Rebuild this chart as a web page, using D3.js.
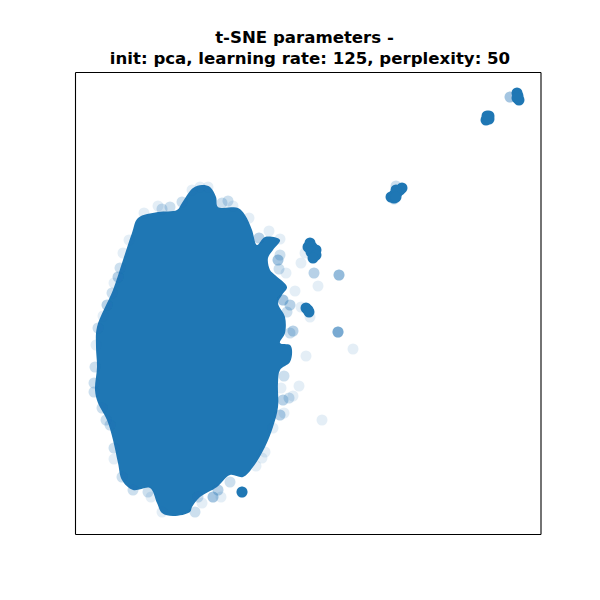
<!DOCTYPE html>
<html>
<head>
<meta charset="utf-8">
<script src="https://cdn.jsdelivr.net/npm/d3@7"></script>
<style>
    html, body { margin: 0; padding: 0; background: #fff; }
    svg { display: block; }
</style>
</head>
<body>
<svg id="chart" width="600" height="600"></svg>
<script>
const titleLines = ["t-SNE parameters -", "init: pca, learning rate: 125, perplexity: 50"];

// Edge of the saturated main cloud, t-SNE units
const cloudX = [-42.1, -38.9, -36.9, -35.1, -33.9, -29.9, -26.1, -25.1, -22.9, -21.1, -19.5, -18.3, -17.9, -13.9, -12.5, -11.1, -10.1, -8.5, -5.5, -6.9, -7.9, -7.5, -6.5, -4.1, -5.1, -5.9, -4.5, -4.5, -5.5, -3.5, -3.1, -3.5, -5.5, -5.9, -5.9, -6.9, -8.5, -10.9, -12.9, -15.5, -18.1, -21.5, -23.1, -23.5, -26.9, -29.1, -30.1, -31.5, -34.9, -37.1, -37.9, -38.9, -40.1, -41.9, -42.5, -42.1, -42.3];
const cloudY = [-4.8, 2.6, 8.6, 14, 17, 18.2, 18.6, 20, 23, 23.6, 23.2, 21.2, 19.2, 19, 17.6, 14.6, 11.6, 13.2, 12.6, 10.6, 9, 6.6, 5.6, 3.2, 1.6, 0, -2.8, -6, -8, -8.4, -9.4, -11.8, -13.4, -16, -20.8, -24.8, -28.8, -32.8, -34.8, -34.4, -36.8, -38.8, -40.8, -41.8, -42.6, -42, -40, -37, -37.4, -35.4, -32, -27.4, -23.4, -20, -17.4, -12.8, -8.8];

// Points inside the small clusters, stacked so deep they read as solid
const denseX = [0.5, 0.1, 0.9, 1.7, 0.7, 1.7, 1.1, -0.3, 0.1, 0.3, -13.1, 16.7, 17.3, 17.9, 18.5, 18.9, 17.3, 17.7, 17.7, 35.7, 36.1, 36.3, 35.9, 36.3, 41.9, 42.1, 42.3, 41.9];
const denseY = [12, 11.2, 11.2, 10.6, 10.2, 9.6, 9, -1, -1.4, -1.8, -37.8, 21.2, 21.6, 22, 22.6, 23, 21, 22.6, 21.2, 36.6, 37, 37.4, 37.4, 36.8, 42, 41.4, 40.6, 41];

// Single outliers, with how many points overlap at each spot
const faintX = [40.5, 17.7, 17.3, -1.3, 1.3, 6.3, 2.1, -2.5, 6.1, 9.1, -0.3, -1.7, 2.9, -2.9, -3.5, -1.3, 0.5, -4.1, -3.5, -4.9, -4.3, -5.7, -5.9, -5.5, -5.5, -7.7, -9.7, -11.7, -15.9, -17.1, -14.9, -19.9, -21.5, 1.3, -0.5, -32.7, -29.9, -27.5, -29.1, -25.1, -23.1, -35.7, -36.9, -37.5, -37.9, -38.7, -39.1, -40.1, -40.9, -41.9, -42.3, -42.5, -42.7, -42.7, -41.1, -40.3, -39.5, -38.7, -38.7, -37.1, -34.9, -31.9, -31.3, -29.1, -22.5, -21.1, -21.9, -18.9, -17.3, -17.9, -15.5, -13.1, -10.3, -9.1, -8.5, -6.9, -5.5, -4.7, -2.9, -3.7, -4.9, -5.3, -4.7];
const faintY = [41.2, 23.4, 20.8, 8, 6, 5.6, 3.4, 2.4, -5.8, -9.2, -10.6, -16.6, -23.4, -5.6, -6, -0.8, -2.8, -1.8, -0.4, 0.6, 6, 6.8, 8.6, 9.6, 12.8, 14.4, 13, 17, 20.4, 20, 19.4, 23.2, 23.2, 9.2, 10, 18, 19.4, 19.2, 18.8, 20.2, 22.6, 12.6, 10, 7, 5.2, 4, 2, -0.4, -2.6, -5, -8.4, -12.8, -16, -17.8, -21, -23.4, -24.4, -29, -31.2, -34.8, -37.4, -37.8, -38.8, -41.8, -41.8, -40, -38.8, -38.8, -38.8, -37.4, -35.8, -37.8, -32.6, -31, -29.8, -25, -22.4, -22, -18.6, -19, -19.4, -17, -14.6];
const faintCount = [4, 2, 2, 1, 3, 5, 1, 1, 7, 1, 1, 1, 1, 3, 2, 1, 1, 2, 3, 4, 1, 2, 4, 2, 1, 1, 3, 1, 2, 2, 1, 1, 1, 2, 1, 1, 1, 2, 2, 2, 1, 1, 1, 2, 3, 1, 2, 3, 1, 2, 1, 2, 2, 2, 2, 2, 2, 2, 1, 2, 2, 2, 1, 1, 2, 1, 2, 4, 1, 3, 2, 3, 1, 1, 1, 1, 3, 1, 1, 2, 3, 1, 2];

const color = "#1f77b4";
const pointRadius = 5.5;

const svg = d3.select("#chart");

const x = d3.scaleLinear().domain([-46.5, 46.6]).range([75, 540.5]);
const y = d3.scaleLinear().domain([-46.2, 46.2]).range([534, 72]);

// Main cloud
const cloudLine = d3.line()
    .x((d) => x(d[0]))
    .y((d) => y(d[1]))
    .curve(d3.curveCatmullRomClosed);

svg.append("path")
    .attr("d", cloudLine(d3.zip(cloudX, cloudY)))
    .attr("fill", color);

// Outliers, drawn once per overlapping point so the alpha builds up
const faintPoints = d3.zip(faintX, faintY, faintCount)
    .flatMap((d) => d3.range(d[2]).map(() => d));

svg.append("g")
    .attr("fill", color)
    .attr("fill-opacity", 0.12)
    .selectAll("circle")
    .data(faintPoints)
    .join("circle")
    .attr("cx", (d) => x(d[0]))
    .attr("cy", (d) => y(d[1]))
    .attr("r", pointRadius);

svg.append("g")
    .attr("fill", color)
    .selectAll("circle")
    .data(d3.zip(denseX, denseY))
    .join("circle")
    .attr("cx", (d) => x(d[0]))
    .attr("cy", (d) => y(d[1]))
    .attr("r", pointRadius);

// Frame: all four spines, no ticks
const frame = [
    [d3.axisBottom(x), `translate(0,${y.range()[0]})`],
    [d3.axisTop(x), `translate(0,${y.range()[1]})`],
    [d3.axisLeft(y), `translate(${x.range()[0]},0)`],
    [d3.axisRight(y), `translate(${x.range()[1]},0)`]
];
frame.forEach(([axis, transform]) => {
    svg.append("g")
        .attr("transform", transform)
        .call(axis.tickValues([]).tickSizeOuter(0))
        .select(".domain")
        .attr("stroke", "#000")
        .attr("stroke-width", 1.1);
});

// Title, the first line sits left because of a trailing space in the original
svg.append("g")
    .attr("font-family", "DejaVu Sans")
    .attr("font-weight", "bold")
    .attr("font-size", 16.6)
    .attr("text-anchor", "middle")
    .attr("fill", "#000")
    .selectAll("text")
    .data(titleLines)
    .join("text")
    .attr("x", (d, i) => (i === 0 ? 304.5 : 310))
    .attr("y", (d, i) => 43 + i * 21)
    .text((d) => d);
</script>
</body>
</html>
